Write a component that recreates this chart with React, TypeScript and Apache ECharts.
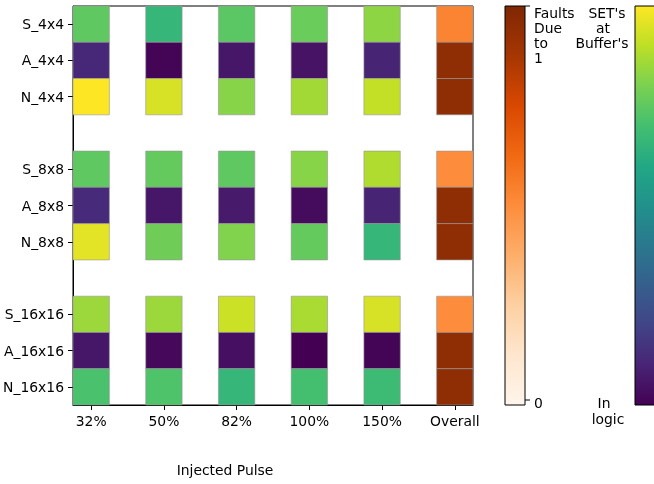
import React, { useEffect, useRef } from "react";
import * as echarts from "echarts";

const xLabels = ["32%", "50%", "82%", "100%", "150%", "Overall"];
const yLabels = ["S_4x4", "A_4x4", "N_4x4", "", "S_8x8", "A_8x8", "N_8x8", "", "S_16x16", "A_16x16", "N_16x16"];
const rowIndex = [0, 1, 2, 4, 5, 6, 8, 9, 10];

const S_4x4 = [0.75, 0.66, 0.74, 0.77, 0.83];
const A_4x4 = [0.11, 0.01, 0.06, 0.05, 0.1];
const N_4x4 = [1.0, 0.94, 0.82, 0.86, 0.91];
const S_8x8 = [0.75, 0.76, 0.75, 0.82, 0.88];
const A_8x8 = [0.12, 0.06, 0.07, 0.03, 0.1];
const N_8x8 = [0.96, 0.78, 0.81, 0.76, 0.66];
const S_16x16 = [0.85, 0.85, 0.92, 0.87, 0.94];
const A_16x16 = [0.06, 0.02, 0.04, 0.0, 0.01];
const N_16x16 = [0.71, 0.72, 0.66, 0.7, 0.68];
const overall = [0.53, 0.95, 0.95, 0.5, 0.95, 0.95, 0.5, 0.95, 0.95];

const rows = [S_4x4, A_4x4, N_4x4, S_8x8, A_8x8, N_8x8, S_16x16, A_16x16, N_16x16];

const viridis = ["#440154", "#482475", "#414487", "#355f8d", "#2a788e", "#21918c", "#22a884", "#44bf70", "#7ad151", "#bddf26", "#fde725"];
const oranges = ["#fff5eb", "#fee6ce", "#fdd0a2", "#fdae6b", "#fd8d3c", "#f16913", "#d94801", "#a63603", "#7f2704"];

const FONT = "DejaVu Sans";
const FS = 13.9;

function gradient(stops: string[]) {
  const n = stops.length;
  return new echarts.graphic.LinearGradient(
    0, 0, 0, 1,
    stops.slice().reverse().map((c, i) => ({ offset: i / (n - 1), color: c }))
  );
}

export default function App() {
  const ref = useRef<HTMLDivElement>(null);
  useEffect(() => {
    if (!ref.current) return;
    const chart = echarts.init(ref.current, null, { renderer: "svg" });

    const pulseData: number[][] = [];
    rows.forEach((vals, r) => {
      vals.forEach((v, c) => pulseData.push([c, rowIndex[r], v]));
    });
    const overallData: number[][] = overall.map((v, r) => [5, rowIndex[r], v]);

    const renderItem = (params: any, api: any) => {
      const x = api.value(0);
      const y = api.value(1);
      const p1 = api.coord([x - 0.25, y - 0.5]);
      const p2 = api.coord([x + 0.25, y + 0.5]);
      return {
        type: "rect",
        shape: {
          x: Math.min(p1[0], p2[0]),
          y: Math.min(p1[1], p2[1]),
          width: Math.abs(p2[0] - p1[0]),
          height: Math.abs(p2[1] - p1[1]),
        },
        style: { fill: api.visual("color"), stroke: "rgba(150,150,150,0.6)", lineWidth: 1 },
      };
    };

    const textStyle = { fontFamily: FONT, fontSize: FS, fill: "#000" };
    const txt = (x: number, y: number, s: string, align = "left") => ({
      type: "text",
      x,
      y,
      style: { ...textStyle, text: s, textAlign: align, textVerticalAlign: "middle" },
    });

    chart.setOption({
      animation: false,
      grid: { left: 73, top: 6, width: 400, height: 399, show: true, borderColor: "#000", borderWidth: 1 },
      xAxis: {
        type: "value",
        min: -0.25,
        max: 5.25,
        splitLine: { show: false },
        axisLine: { show: true, onZero: false, lineStyle: { color: "#000", width: 1 } },
        axisTick: { show: true, length: 5, lineStyle: { color: "#000", width: 1 }, customValues: [0, 1, 2, 3, 4, 5] },
        axisLabel: {
          customValues: [0, 1, 2, 3, 4, 5],
          formatter: (v: number) => xLabels[Math.round(v)],
          fontFamily: FONT,
          fontSize: FS,
          color: "#000",
          margin: 9,
        },
      },
      yAxis: {
        type: "value",
        inverse: true,
        min: -0.5,
        max: 10.5,
        splitLine: { show: false },
        axisLine: { show: true, onZero: false, lineStyle: { color: "#000", width: 1 } },
        axisTick: { show: true, length: 5, lineStyle: { color: "#000", width: 1 }, customValues: rowIndex },
        axisLabel: {
          customValues: rowIndex,
          formatter: (v: number) => yLabels[Math.round(v)],
          fontFamily: FONT,
          fontSize: FS,
          color: "#000",
          margin: 9,
        },
      },
      visualMap: [
        { type: "continuous", show: false, seriesIndex: 0, dimension: 2, min: 0, max: 1, inRange: { color: viridis } },
        { type: "continuous", show: false, seriesIndex: 1, dimension: 2, min: 0, max: 1, inRange: { color: oranges } },
      ],
      series: [
        { type: "custom", renderItem, data: pulseData, encode: { x: 0, y: 1 } },
        { type: "custom", renderItem, data: overallData, encode: { x: 0, y: 1 } },
      ],
      graphic: [
        { type: "rect", shape: { x: 505, y: 6, width: 20, height: 399 }, style: { fill: gradient(oranges), stroke: "#000", lineWidth: 1 } },
        { type: "line", shape: { x1: 525, y1: 6, x2: 530, y2: 6 }, style: { stroke: "#000", lineWidth: 1 } },
        { type: "line", shape: { x1: 525, y1: 400, x2: 530, y2: 400 }, style: { stroke: "#000", lineWidth: 1 } },
        { type: "rect", shape: { x: 635, y: 6, width: 22, height: 399 }, style: { fill: gradient(viridis), stroke: "#000", lineWidth: 1 } },
        txt(534, 13, "Faults"),
        txt(534, 28, "Due"),
        txt(534, 43, "to"),
        txt(534, 58, "1"),
        txt(534, 403, "0"),
        txt(607, 13, "SET's", "center"),
        txt(603, 28, "at", "center"),
        txt(602, 43, "Buffer's", "center"),
        txt(604, 403, "In", "center"),
        txt(608, 419, "logic", "center"),
        txt(225, 470, "Injected Pulse", "center"),
      ],
    });
    return () => chart.dispose();
  }, []);
  return <div ref={ref} style={{ position: "fixed", left: 0, top: 0, width: 654, height: 484 }} />;
}
